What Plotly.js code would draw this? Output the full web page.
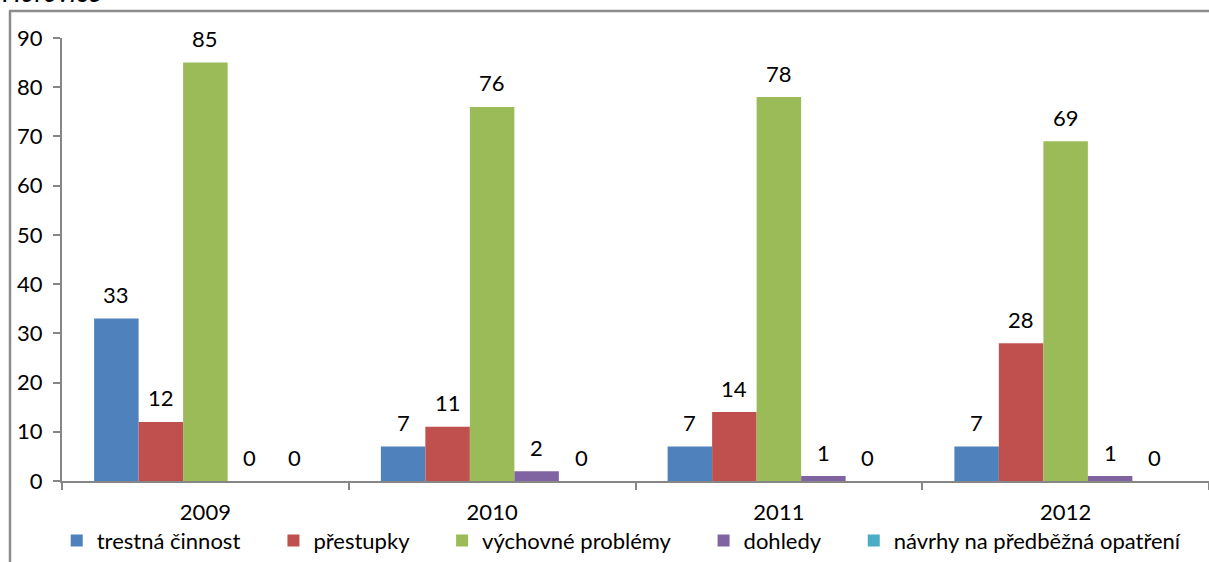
<!DOCTYPE html>
<html>
<head>
<meta charset="utf-8">
<script src="https://cdn.plot.ly/plotly-3.0.1.min.js"></script>
<style>
html,body{margin:0;padding:0;background:#fff;}
#chart{width:1209px;height:562px;}
</style>
</head>
<body>
<div id="chart"></div>
<script>
const years = ["2009", "2010", "2011", "2012"];
const seriesNames = ["trestná činnost", "přestupky", "výchovné problémy", "dohledy", "návrhy na předběžná opatření"];
const trestnaCinnost = [33, 7, 7, 7];
const prestupky = [12, 11, 14, 28];
const vychovneProblemy = [85, 76, 78, 69];
const dohledy = [0, 2, 1, 1];
const navrhy = [0, 0, 0, 0];
const colors = ["#4F81BD", "#C0504D", "#9BBB59", "#8064A2", "#4BACC6"];
const chartTitle = "Hořovice";

const allSeries = [trestnaCinnost, prestupky, vychovneProblemy, dohledy, navrhy];
const FONT = "Lato, 'Noto Sans', sans-serif";
const FS = 22;
const bargap = 0.224;
const barW = (1 - bargap) / allSeries.length;
const legendPad = "\u00a0\u00a0\u00a0\u00a0\u00a0";

const traces = allSeries.map((vals, i) => ({
  type: "bar",
  name: seriesNames[i] + (i < allSeries.length - 1 ? legendPad : ""),
  x: years,
  y: vals,
  marker: {color: colors[i]},
  hovertemplate: seriesNames[i] + ": %{y}<extra>%{x}</extra>"
}));

const annotations = [];
allSeries.forEach((vals, i) => {
  vals.forEach((v, j) => {
    annotations.push({
      x: j + (i - (allSeries.length - 1) / 2) * barW,
      y: v,
      xref: "x", yref: "y",
      text: String(v),
      showarrow: false,
      yanchor: "middle",
      yshift: 24,
      font: {family: FONT, size: FS, color: "#000"}
    });
  });
});
annotations.push({
  x: -62 / 1147, y: 1.063, xref: "paper", yref: "paper",
  xanchor: "left", yanchor: "bottom",
  text: "<i>" + chartTitle + "</i>", showarrow: false,
  font: {family: FONT, size: 27, color: "#000"}
});

const layout = {
  width: 1209, height: 562,
  margin: {l: 62, r: 0, t: 38, b: 81, pad: 0},
  paper_bgcolor: "#fff", plot_bgcolor: "#fff",
  barmode: "group",
  bargap: bargap,
  bargroupgap: 0,
  font: {family: FONT, size: FS, color: "#000"},
  showlegend: true,
  legend: {orientation: "h", x: 0.488, xanchor: "center", y: -0.135, yanchor: "middle",
           font: {family: FONT, size: FS, color: "#000"}, bgcolor: "rgba(0,0,0,0)"},
  xaxis: {
    type: "category",
    showline: true, linecolor: "#868686", linewidth: 2,
    ticks: "outside", tickson: "boundaries", ticklen: 7, tickcolor: "#868686", tickwidth: 2,
    ticklabelstandoff: 11,
    showgrid: false, zeroline: false,
    tickfont: {family: FONT, size: FS, color: "#000"}
  },
  yaxis: {
    range: [0, 90], dtick: 10,
    showline: true, linecolor: "#868686", linewidth: 2,
    ticks: "outside", ticklen: 7, tickcolor: "#868686", tickwidth: 2,
    ticklabelstandoff: 6,
    showgrid: false, zeroline: false,
    tickfont: {family: FONT, size: FS, color: "#000"}
  },
  annotations: annotations,
  shapes: [
    {type: "line", xref: "paper", yref: "paper", x0: -52 / 1147, x1: -52 / 1147, y0: 1 + 27 / 443, y1: -81 / 443,
     line: {color: "#8c8c8c", width: 2.5}},
    {type: "line", xref: "paper", yref: "paper", x0: -53 / 1147, x1: 1.01, y0: 1 + 27 / 443, y1: 1 + 27 / 443,
     line: {color: "#8c8c8c", width: 2.5}}
  ]
};

Plotly.newPlot("chart", traces, layout, {displayModeBar: false, responsive: false});
</script>
</body>
</html>
